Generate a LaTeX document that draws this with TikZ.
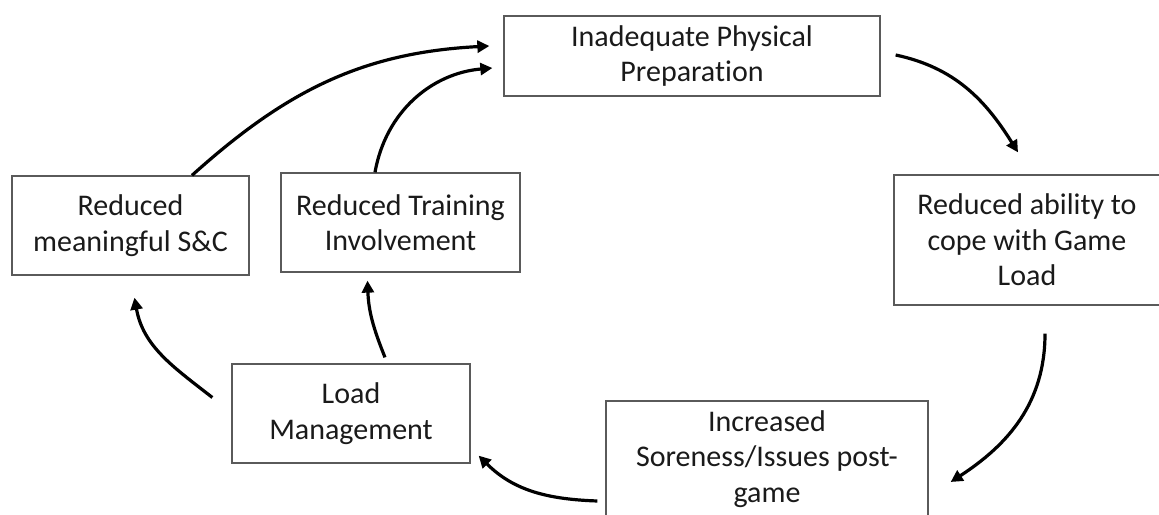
\documentclass[tikz,border=0pt]{standalone}
\usepackage{fontspec}
\setmainfont{Carlito}[Ligatures=NoCommon]
\usetikzlibrary{arrows.meta}
\definecolor{edgegray}{HTML}{5A5A5A}
\definecolor{inkgray}{HTML}{1A1A1A}
\tikzset{
  stagebox/.style={draw=edgegray, line width=1.3pt, fill=white, inner sep=0pt,
    align=center, text=inkgray, font=\fontsize{30}{35.5}\selectfont},
  flow/.style={line width=3.2pt, black, -{Triangle[length=12pt,width=12pt]}}
}
\begin{document}
\begin{tikzpicture}[x=1pt,y=1pt]
  \path[use as bounding box, fill=white] (0,0) rectangle (1159,514);

  % stages of the cycle
  \node[stagebox, minimum width=376pt, minimum height=80pt]  (prep) at (692,458)   {Inadequate Physical\\Preparation};
  \node[stagebox, minimum width=266pt, minimum height=130pt] (cope) at (1027,274)  {Reduced ability to\\cope with Game\\Load};
  \node[stagebox, minimum width=322pt, minimum height=116pt] (sore) at (767,55)    {Increased\\Soreness/Issues post-\\game};
  \node[stagebox, minimum width=238pt, minimum height=99pt]  (load) at (351,100.5) {Load\\Management};
  \node[stagebox, minimum width=237pt, minimum height=99pt]  (snc)  at (130.5,288.5) {Reduced\\meaningful S\&C};
  \node[stagebox, minimum width=239pt, minimum height=99pt]  (train) at (400.5,291.5) {Reduced Training\\Involvement};

  % connectors around the cycle
  \draw[flow] ([xshift=15pt,yshift=1pt]prep.east) to[out=-12, in=122] ([xshift=-9pt,yshift=22pt]cope.north);
  \draw[flow] ([xshift=18pt,yshift=-28pt]cope.south) to[out=-90, in=33] ([xshift=22pt,yshift=-23pt]sore.east);
  \draw[flow] ([xshift=-8pt,yshift=-42pt]sore.west) to[out=178, in=-45] ([xshift=8pt,yshift=8pt]load.south east);
  \draw[flow] ([xshift=-19pt,yshift=16pt]load.west) to[out=142, in=-80] ([xshift=4pt,yshift=-22pt]snc.south);
  \draw[flow] ([xshift=34pt,yshift=6pt]load.north) to[out=112, in=-88] ([xshift=-33pt,yshift=-8pt]train.south);
  \draw[flow] ([xshift=61.5pt]snc.north) to[out=42, in=-177] ([xshift=-14pt,yshift=10pt]prep.west);
  \draw[flow] ([xshift=-25.5pt]train.north) to[out=80, in=-175] ([xshift=-11pt,yshift=-12pt]prep.west);
\end{tikzpicture}
\end{document}
